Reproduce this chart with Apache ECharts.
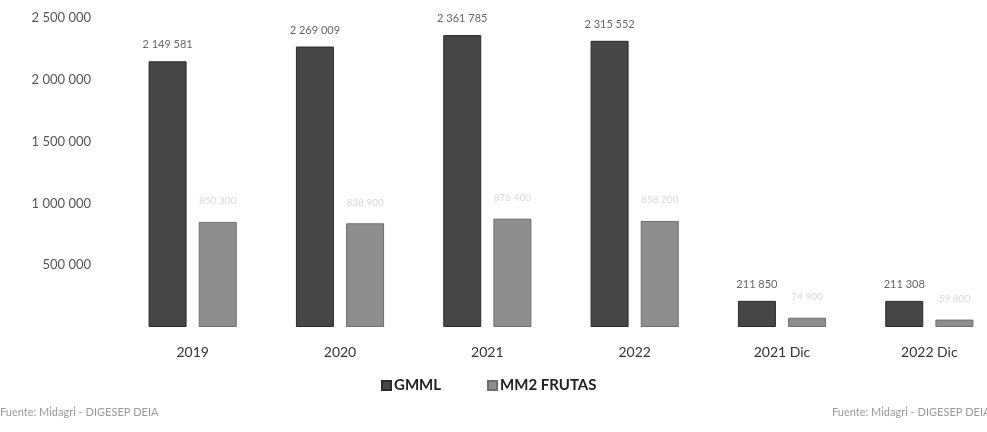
<!DOCTYPE html>
<html>
<head>
<meta charset="utf-8">
<script src="https://cdn.jsdelivr.net/npm/echarts@6/dist/echarts.min.js"></script>
<style>
html,body{margin:0;padding:0;background:#fff;}
#c{width:987px;height:432px;}
</style>
</head>
<body>
<div id="c"></div>
<script>
const categories = ['2019', '2020', '2021', '2022', '2021 Dic', '2022 Dic'];
const gmml = [2149581, 2269009, 2361785, 2315552, 211850, 211308];
const mm2 = [850300, 838900, 876400, 858200, 74900, 59800];
const yTicks = [0, 500000, 1000000, 1500000, 2000000, 2500000];
const seriesNames = ['GMML', 'MM2 FRUTAS'];
const sources = ['Fuente: Midagri - DIGESEP DEIA', 'Fuente: Midagri - DIGESEP DEIA'];

function fmt(v) {
  return String(Math.round(v)).replace(/\B(?=(\d{3})+(?!\d))/g, ' ');
}

const chart = echarts.init(document.getElementById('c'), null, {renderer: 'canvas'});
chart.setOption({
  backgroundColor: '#ffffff',
  animation: false,
  textStyle: {fontFamily: 'Lato, "Open Sans", sans-serif'},
  grid: {left: 119, width: 884, top: 18, bottom: 105, containLabel: false, outerBoundsMode: 'none'},
  legend: {
    data: seriesNames,
    left: 376,
    top: 373,
    itemWidth: 9,
    itemHeight: 9,
    itemGap: 46,
    icon: 'rect',
    textStyle: {fontSize: 15, fontWeight: 'bold', color: '#222', fontFamily: 'Lato, sans-serif', padding: [0, 0, 0, -2]}
  },
  xAxis: {
    type: 'category',
    data: categories,
    axisLine: {show: false},
    axisTick: {show: false},
    axisLabel: {margin: 18, fontSize: 14, color: '#333', fontFamily: 'Lato, sans-serif'}
  },
  yAxis: {
    type: 'value',
    min: 0,
    max: 2500000,
    interval: 500000,
    splitLine: {show: false},
    axisLine: {show: false},
    axisTick: {show: false},
    axisLabel: {
      margin: 28,
      fontSize: 13,
      color: '#555',
      fontFamily: 'Lato, sans-serif',
      formatter: function (v) { return v === 0 ? '' : fmt(v); }
    }
  },
  series: [
    {
      name: seriesNames[0],
      type: 'bar',
      data: gmml,
      barWidth: 38,
      barGap: '32%',
      itemStyle: {color: '#464646', borderColor: '#2b2b2b', borderWidth: 1},
      label: {
        show: true, position: 'top', distance: 11,
        fontSize: 11, color: '#666', fontFamily: 'Lato, sans-serif',
        formatter: function (p) { return fmt(p.value); }
      }
    },
    {
      name: seriesNames[1],
      type: 'bar',
      data: mm2,
      barWidth: 38,
      itemStyle: {color: '#8e8e8e', borderColor: '#6e6e6e', borderWidth: 1},
      label: {
        show: true, position: 'top', distance: 16,
        fontSize: 10, color: '#d9d9d9', fontFamily: 'Lato, sans-serif',
        formatter: function (p) { return fmt(p.value); }
      }
    }
  ],
  graphic: [
    {type: 'text', left: 0, top: 407, style: {text: sources[0], fontSize: 11, fill: '#9a9a9a', fontFamily: 'Lato, sans-serif'}},
    {type: 'text', left: 832, top: 407, style: {text: sources[1], fontSize: 11, fill: '#9a9a9a', fontFamily: 'Lato, sans-serif'}}
  ]
});
</script>
</body>
</html>
